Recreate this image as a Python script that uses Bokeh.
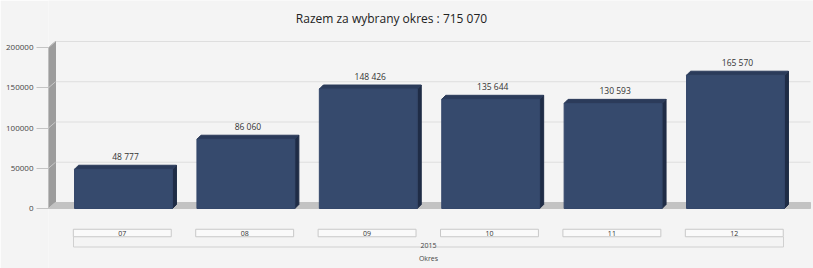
from bokeh.plotting import figure
from bokeh.models import Range1d, FixedTicker, ColumnDataSource, NumeralTickFormatter
from bokeh.core.properties import value
from bokeh.embed import file_html
from bokeh.resources import INLINE

# ---- data ----
months = ["07", "08", "09", "10", "11", "12"]
values = [48777, 86060, 148426, 135644, 130593, 165570]
year_label = "2015"
axis_title = "Okres"
y_ticks = [0, 50000, 100000, 150000, 200000]
title_text = "Razem za wybrany okres : " + f"{sum(values):,}".replace(",", " ")

# ---- layout helpers (pixel -> data) ----
U = 200000 / 161.0          # value units per pixel (front plane)
PX = 122.4                  # pixels per category
def ypx(py):
    return (208 - py) * U
def xpx(px):
    return (px - 123) / PX

W, H = 813, 268
FONT = value("Open Sans")

p = figure(width=W, height=H, output_backend="svg", toolbar_location=None,
           x_range=Range1d(xpx(48), xpx(W)), y_range=Range1d(ypx(H), ypx(0)),
           x_axis_location=None, min_border_left=48, min_border_right=0,
           min_border_top=0, min_border_bottom=0)
p.background_fill_color = "#f4f4f4"
p.border_fill_color = "#f4f4f4"
p.outline_line_color = None
p.xgrid.visible = False
p.ygrid.visible = False

ax = p.yaxis[0]
ax.ticker = FixedTicker(ticks=y_ticks)
ax.formatter = NumeralTickFormatter(format="0")
ax.axis_line_color = None
ax.major_tick_out = 12
ax.major_tick_in = 0
ax.minor_tick_line_color = None
ax.major_tick_line_color = "#c4c4c4"
ax.major_label_standoff = 3
ax.major_label_text_font = "Open Sans"
ax.major_label_text_font_size = "8px"
ax.major_label_text_color = "#444444"

xL = xpx(48)
xR = xpx(810)
wdx = 7 / PX
wdy = 6 * U

# back-wall gridlines
p.segment(x0=[xL + wdx] * len(y_ticks), y0=[t + wdy for t in y_ticks],
          x1=[xR] * len(y_ticks), y1=[t + wdy for t in y_ticks],
          line_color="#dedede", line_width=1)

# left wall
p.patch(x=[xL, xL, xL + wdx, xL + wdx], y=[0, y_ticks[-1], y_ticks[-1] + wdy, wdy],
        fill_color="#9c9c9c", line_color="#9c9c9c")
p.segment(x0=[xL] * len(y_ticks), y0=y_ticks, x1=[xL + wdx] * len(y_ticks),
          y1=[t + wdy for t in y_ticks], line_color="#c6c6c6", line_width=1)

# floor
p.patch(x=[xL, xL + wdx, xR, xR], y=[0, wdy, wdy, 0],
        fill_color="#c3c3c3", line_color="#c3c3c3")

# bars
idx = list(range(len(months)))
half = 0.4
ddx = 4 / PX
ddy = 4 * U
side_xs = [[i + half, i + half + ddx, i + half + ddx, i + half] for i in idx]
side_ys = [[0, ddy, v + ddy, v] for v in values]
top_xs = [[i - half, i - half + ddx, i + half + ddx, i + half] for i in idx]
top_ys = [[v, v + ddy, v + ddy, v] for v in values]
p.patches(xs=side_xs, ys=side_ys, fill_color="#1f2c46", line_color="#1f2c46")
p.patches(xs=top_xs, ys=top_ys, fill_color="#2b3b5a", line_color="#2b3b5a")
p.vbar(x=idx, top=values, bottom=0, width=2 * half, fill_color="#364a6d",
       line_color="#34476a")

# value labels
src = ColumnDataSource(dict(x=[i + ddx / 2 for i in idx], y=[v + ddy for v in values],
                            t=[f"{v:,}".replace(",", " ") for v in values]))
p.text(x="x", y="y", text="t", source=src, text_align="center", text_baseline="bottom",
       y_offset=-3, text_font=FONT, text_font_size="8.5px", text_color="#333333")

# category boxes
p.rect(x=[i - 0.01 for i in idx], y=[ypx(232.5)] * len(idx), width=0.8, height=7.5 * U,
       fill_color="#fafafa", line_color="#c8c8c8", line_width=1)
p.text(x=[i - 0.01 for i in idx], y=[ypx(232.8)] * len(idx), text=months,
       text_align="center", text_baseline="middle", text_font=FONT,
       text_font_size="7px", text_color="#333333")

# group bracket
gx0, gx1 = xpx(73), xpx(783)
gy0, gy1 = ypx(236.5), ypx(246.5)
p.multi_line(xs=[[gx0, gx0, gx1, gx1]], ys=[[gy0, gy1, gy1, gy0]],
             line_color="#d0d0d0", line_width=1)
p.text(x=[xpx(428)], y=[ypx(245)], text=[year_label], text_align="center",
       text_baseline="middle", text_font=FONT, text_font_size="7px", text_color="#444444")
p.text(x=[xpx(428)], y=[ypx(257.5)], text=[axis_title], text_align="center",
       text_baseline="middle", text_font=FONT, text_font_size="7px", text_color="#444444")

# title
p.text(x=[xpx(391)], y=[ypx(18)], text=[title_text], text_align="center",
       text_baseline="middle", text_font=FONT, text_font_size="12px", text_color="#222222")

open("out.html", "w").write(file_html(p, INLINE))
